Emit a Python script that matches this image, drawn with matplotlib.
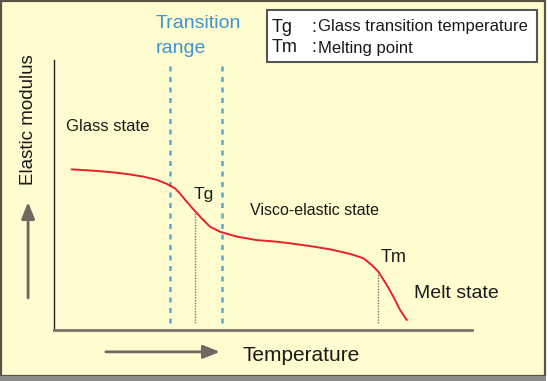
import matplotlib
matplotlib.use("Agg")
import matplotlib.pyplot as plt
from matplotlib.patches import Rectangle
import numpy as np

plt.rcParams['font.family'] = ['Liberation Sans', 'DejaVu Sans']

# ---- data (arbitrary units) ----
temperature = [4.2, 9.4, 13.4, 17.4, 21.4, 24.6, 27.0, 29.0, 30.1, 32.1, 33.7,
               35.3, 37.3, 39.7, 43.7, 48.5, 53.3, 56.5, 61.2, 66.0, 70.8,
               74.0, 76.0, 77.6, 79.6, 81.2, 82.8, 84.4]
modulus = [59.5, 59.0, 58.5, 57.8, 56.8, 55.6, 54.1, 52.4, 50.6, 46.9, 44.1,
           41.4, 38.3, 36.4, 34.6, 33.3, 32.7, 32.1, 31.1, 29.9, 28.2,
           26.6, 24.1, 21.6, 16.7, 12.3, 7.4, 3.7]
transition_range = [27.8, 40.2]
tg = 33.7
tm = 77.6
state_labels = ["Glass state", "Visco-elastic state", "Melt state"]
legend_lines = [("Tg", "Glass transition temperature"), ("Tm", "Melting point")]

W, H = 548, 381
fig = plt.figure(figsize=(W / 100, H / 100), dpi=100, facecolor='white')

# background frame
bg = '#FFFCCF'
fig.patches.append(Rectangle((0.5 / W, 5 / H), 544.5 / W, (H - 5.5) / H,
                             transform=fig.transFigure, facecolor=bg,
                             edgecolor='#5a5244', lw=1.6, zorder=-2))
fig.patches.append(Rectangle((0, 0), 546 / W, 5 / H, transform=fig.transFigure,
                             facecolor='#8c8a84', edgecolor='none', zorder=-2))

ax = fig.add_axes([54 / W, 51 / H, 418 / W, 270 / H])
ax.set_facecolor('none')
ax.set_xlim(0, 100)
ax.set_ylim(0, 100)
ax.set_xticks([])
ax.set_yticks([])
for s in ['top', 'right']:
    ax.spines[s].set_visible(False)
ax.spines['left'].set_color('#222222')
ax.spines['left'].set_linewidth(1.0)
ax.spines['bottom'].set_color('#77756c')
ax.spines['bottom'].set_linewidth(2.0)

# transition range lines
for xv in transition_range:
    ax.plot([xv, xv], [2.6, 98.9], color='#5aa9d6', lw=1.8, ls=(0, (2, 2.2)),
            clip_on=False)

# Tg / Tm dotted drops
for xv in (tg, tm):
    ytop = np.interp(xv, temperature, modulus)
    ax.plot([xv, xv], [2.6, ytop], color='#777777', lw=1.0, ls=(0, (1, 1)))

# curve
ax.plot(temperature, modulus, color='#e8202a', lw=1.4, solid_capstyle='round',
        solid_joinstyle='round')

txt = dict(color='#1a1a1a', clip_on=False)
ax.text(24.3, 108.9, "Transition\nrange", color='#3a95d5', fontsize=14,
        ha='left', va='center', linespacing=1.55)
ax.text(2.9, 75.2, state_labels[0], fontsize=12, ha='left', va='center', **txt)
ax.text(33.3, 50.0, "Tg", fontsize=12.5, ha='left', va='center', **txt)
ax.text(46.9, 44.4, state_labels[1], fontsize=11.5, ha='left', va='center', **txt)
ax.text(78.2, 26.7, "Tm", fontsize=13, ha='left', va='center', **txt)
ax.text(86.1, 13.7, state_labels[2], fontsize=14, ha='left', va='center', **txt)
ax.text(45.2, -9.3, "Temperature", fontsize=15, ha='left', va='center', **txt)
ax.text(-6.2, 77.8, "Elastic modulus", fontsize=13.5, rotation=90,
        ha='center', va='center', **txt)

# axis direction arrows
ax.annotate("", xy=(-6.2, 47.4), xytext=(-6.2, 11.9), xycoords='data',
            annotation_clip=False,
            arrowprops=dict(arrowstyle='-|>,head_length=1.0,head_width=0.4',
                            color='#6e6860', lw=2.0, shrinkA=0, shrinkB=0))
ax.annotate("", xy=(39.7, -8.1), xytext=(12.4, -8.1), xycoords='data',
            annotation_clip=False,
            arrowprops=dict(arrowstyle='-|>,head_length=1.0,head_width=0.4',
                            color='#6e6860', lw=2.0, shrinkA=0, shrinkB=0))

# legend box (figure pixel coords -> fraction)
fig.patches.append(Rectangle((267 / W, 1 - 62 / H), 270 / W, 52 / H,
                             transform=fig.transFigure, facecolor='white',
                             edgecolor='#555555', lw=1.5, zorder=2))
ys = [27, 48]
for (sym, desc), yp in zip(legend_lines, ys):
    fig.text(271.5 / W, 1 - yp / H, sym, fontsize=13, ha='left', va='center',
             color='#1a1a1a', zorder=3)
    fig.text(311 / W, 1 - yp / H, ":", fontsize=13, ha='left', va='center',
             color='#1a1a1a', zorder=3)
    fig.text(318 / W, 1 - yp / H, desc, fontsize=12, ha='left', va='center',
             color='#1a1a1a', zorder=3)

fig.savefig("out.png", dpi=100, facecolor=fig.get_facecolor())
